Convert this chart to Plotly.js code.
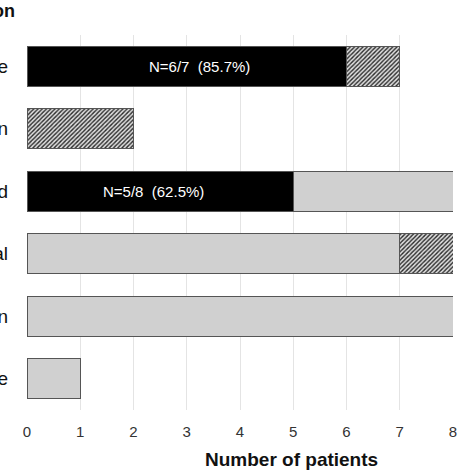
<!DOCTYPE html>
<html>
<head>
<meta charset="utf-8">
<script src="https://cdn.plot.ly/plotly-3.0.1.min.js"></script>
<style>
  html, body { margin: 0; padding: 0; background: #fff; }
  #chart { width: 474px; height: 474px; }
</style>
</head>
<body>
<div id="chart"></div>
<script>
// Categories (cropped labels, top to bottom)
var categories = ['e', 'n', 'd', 'al', 'n', 'e'];

// Series values (number of patients)
var blackValues = [6, 0, 5, 0, 0, 0];
var grayValues = [0, 0, 3, 7, 8, 1];
var hatchValues = [1, 2, 0, 1, 0, 0];

// In-bar labels
var barLabels = ['N=6/7  (85.7%)', '', 'N=5/8  (62.5%)', '', '', ''];
var barLabelX = [3.23, 0, 2.38, 0, 0, 0];

var xTicks = [0, 1, 2, 3, 4, 5, 6, 7, 8];

// row positions (categories repeat, so use indexes)
var rows = categories.map(function (_, i) { return i; });

var outline = { color: '#555555', width: 1 };
var font = 'Arial, Liberation Sans, sans-serif';

var data = [
    {
        type: 'bar',
        orientation: 'h',
        y: rows,
        x: blackValues,
        marker: { color: '#000000', line: outline },
        hoverinfo: 'skip'
    },
    {
        type: 'bar',
        orientation: 'h',
        y: rows,
        x: grayValues,
        marker: { color: '#d0d0d0', line: outline },
        hoverinfo: 'skip'
    },
    {
        type: 'bar',
        orientation: 'h',
        y: rows,
        x: hatchValues,
        marker: {
            color: '#d8d8d8',
            line: outline,
            pattern: { shape: '/', fgcolor: '#2a2a2a', bgcolor: '#e0e0e0', size: 3, solidity: 0.45 }
        },
        hoverinfo: 'skip'
    }
];

var annotations = [];
barLabels.forEach(function (t, i) {
    if (!t) return;
    annotations.push({
        x: barLabelX[i], y: rows[i], xref: 'x', yref: 'y',
        text: t, showarrow: false,
        font: { family: font, size: 15, color: '#ffffff' }
    });
});
annotations.push({
    xref: 'paper', yref: 'paper', x: 0.622, y: -0.133,
    xanchor: 'center', yanchor: 'middle',
    text: '<b>Number of patients</b>', showarrow: false,
    font: { family: font, size: 19, color: '#111111' }
});
annotations.push({
    xref: 'paper', yref: 'paper', x: -0.023, y: 1.064,
    xanchor: 'right', yanchor: 'middle',
    text: '<b>on</b>', showarrow: false,
    font: { family: font, size: 18, color: '#111111' }
});

var layout = {
    width: 474,
    height: 474,
    barmode: 'stack',
    bargap: 0.36,
    showlegend: false,
    paper_bgcolor: '#ffffff',
    plot_bgcolor: '#ffffff',
    margin: { l: 27, r: 21, t: 35, b: 64 },
    xaxis: {
        range: [0, 8],
        tickvals: xTicks,
        showgrid: true,
        gridcolor: '#e4e4e4',
        gridwidth: 1,
        zeroline: false,
        showline: false,
        ticks: '',
        ticklabelstandoff: 11,
        tickfont: { family: font, size: 15, color: '#333333' },
        automargin: false
    },
    yaxis: {
        range: [5.5, -0.5],
        tickvals: rows,
        ticktext: categories,
        showgrid: false,
        zeroline: false,
        showline: false,
        ticks: '',
        ticklabelstandoff: 18,
        tickfont: { family: font, size: 19, color: '#111111' },
        automargin: false
    },
    annotations: annotations
};

Plotly.newPlot('chart', data, layout, { displayModeBar: false, staticPlot: true });
</script>
</body>
</html>
